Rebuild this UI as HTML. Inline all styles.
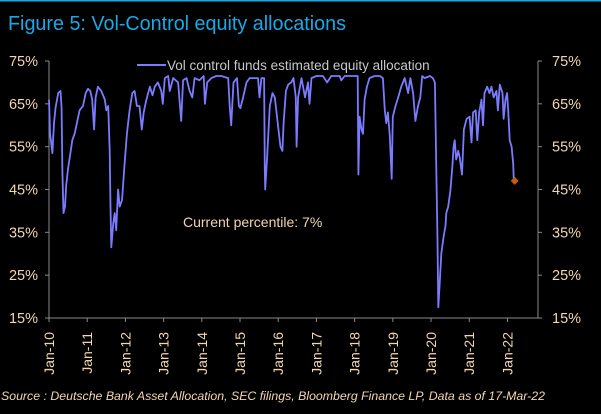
<!DOCTYPE html>
<html><head><meta charset="utf-8"><style>
html,body{margin:0;padding:0;background:#000;}
svg{display:block;font-family:"Liberation Sans",sans-serif;}
</style></head><body>
<svg width="601" height="414" viewBox="0 0 601 414" id="c">
<rect x="0" y="0" width="601" height="414" fill="#000"/>
<rect x="0" y="0" width="601" height="1.5" fill="#18a8e6"/>
<text x="8" y="30" font-size="20" fill="#1aa8e6" textLength="338" lengthAdjust="spacingAndGlyphs">Figure 5: Vol-Control equity allocations</text>
<line x1="137" y1="65" x2="166" y2="65" stroke="#7b7bff" stroke-width="2"/>
<text x="167" y="70" font-size="13.5" fill="#c8c8c8">Vol control funds estimated equity allocation</text>
<text x="183" y="227" font-size="14" fill="#f2d6b0">Current percentile: 7%</text>
<text x="1" y="400" font-size="12.3" font-style="italic" fill="#f2d6b0" textLength="544" lengthAdjust="spacingAndGlyphs">Source : Deutsche Bank Asset Allocation, SEC filings, Bloomberg Finance LP, Data as of 17-Mar-22</text>
<g id="axes"></g>
<g id="plot"></g>
</svg>
<script>
const yTicks = [15,25,35,45,55,65,75];
const xLabels = ["Jan-10","Jan-11","Jan-12","Jan-13","Jan-14","Jan-15","Jan-16","Jan-17","Jan-18","Jan-19","Jan-20","Jan-21","Jan-22"];
const years = [0,.03,.09,.13,.17,.24,.30,.33,.35,.38,.42,.45,.50,.56,.61,.67,.73,.80,.89,.96,1.02,1.08,1.13,1.18,1.22,1.28,1.37,1.46,1.50,1.55,1.59,1.61,1.63,1.68,1.72,1.76,1.81,1.85,1.91,1.98,2.04,2.11,2.18,2.24,2.30,2.37,2.43,2.48,2.55,2.64,2.71,2.77,2.85,2.94,2.98,3.03,3.12,3.16,3.25,3.38,3.46,3.51,3.60,3.68,3.75,3.81,3.94,4.05,4.08,4.14,4.25,4.38,4.51,4.69,4.73,4.77,4.83,4.92,4.97,5.01,5.08,5.17,5.25,5.34,5.47,5.51,5.56,5.63,5.65,5.66,5.71,5.78,5.85,5.91,5.95,6.00,6.06,6.11,6.14,6.20,6.26,6.34,6.40,6.46,6.48,
6.52,6.61,6.70,6.78,6.82,6.87,7.00,7.17,7.28,7.39,7.61,7.65,7.74,8.04,8.08,8.10,8.13,8.18,8.22,8.26,8.32,8.39,8.52,8.66,8.74,8.79,8.83,8.87,8.92,8.97,9.00,9.07,9.14,9.22,9.31,9.40,9.46,9.53,9.59,9.66,9.72,9.77,9.83,9.97,10.05,10.10,10.14,10.17,10.19,10.23,10.27,10.33,10.38,10.40,10.45,10.51,10.56,10.59,10.62,10.66,10.71,10.75,10.81,10.86,10.93,11.01,11.06,11.10,11.17,11.21,11.26,11.32,11.36,11.40,11.47,11.53,11.58,11.64,11.71,11.75,11.80,11.87,11.90,11.95,11.99,12.02,12.06,12.11,12.15,12.17];
const values = [66,58,53.5,60.5,64,67.5,68,64,49,39.5,41,46,50,53.5,56.5,58,60.5,63.5,64.5,67.5,68.5,68,66,59,66.5,69,68,66,63.5,64.5,54,41,31.5,37,39.5,35.5,45,41,42.5,51,58,63.5,67.5,68,64.5,64.5,59,63,66,69,67,69,70,68,65,71,71.5,68,71,70,61,70.5,71,68,66.5,71,70.5,71.5,65,70,71,71.5,71.5,71,64.5,60,70,71,64.5,64,66.5,70,71,71,71,66.5,71,71,49.5,45,52.5,64.5,67.5,66.5,63.5,59.5,55,54,60.5,68,69.5,70,71,66.5,55,
66.5,71,66.5,70,65,71,71.5,71.5,70,71.5,71.5,70.5,71.5,71.5,71.5,48.5,62,59,58,66,69,71,71.5,71.5,71,63.5,60.5,63,57.5,47.5,62,64.5,66.5,69,71,67.5,71,67.5,61,64.5,66.5,71.5,71,71.5,71,70,48.5,33,17.5,23.5,30,34,36.5,39.5,41,45,50.5,55,56.5,52,54,52.5,48.5,59,61.5,62,56,63,63.5,56.5,63,66,60,67.5,69,67.5,69,66.5,68,63.5,69.5,67.5,61.5,66,67.5,63.5,56.5,55,51,46.5];
const lastValue = [12.19, 47];

const X0=49, X1=538, Y0=318, Y1=61, T0=0, T1=12.8, V0=15, V1=75;
const sx = t => X0 + (t-T0)/(T1-T0)*(X1-X0);
const sy = v => Y0 - (v-V0)/(V1-V0)*(Y0-Y1);
const NS="http://www.w3.org/2000/svg";
const axes=document.getElementById('axes'), plot=document.getElementById('plot');
function mk(tag, attrs, parent){const e=document.createElementNS(NS,tag);for(const k in attrs)e.setAttribute(k,attrs[k]);parent.appendChild(e);return e;}
const ax="#8a8a8a", lab="#f2d6b0";
let e;
e=mk('line',{x1:X0,y1:Y1,x2:X0,y2:Y0,stroke:ax},axes);


e=mk('line',{x1:X1,y1:Y1,x2:X1,y2:Y0,stroke:ax},axes);


e=mk('line',{x1:X0-4,y1:Y0,x2:X1+4,y2:Y0,stroke:ax},axes);


yTicks.forEach(v=>{
  const y=sy(v);
  mk('line',{x1:X0-4,y1:y,x2:X0,y2:y,stroke:ax},axes);
  mk('line',{x1:X1,y1:y,x2:X1+4,y2:y,stroke:ax},axes);
  e=mk('text',{x:38,y:y+5,'font-size':14.5,fill:lab,'text-anchor':'end'},axes);
  e.textContent=v+'%';
  
  
  e=mk('text',{x:552,y:y+5,'font-size':14.5,fill:lab},axes);
  e.textContent=v+'%';
  
  
});
xLabels.forEach((l,i)=>{
  const x=sx(i);
  mk('line',{x1:x,y1:Y0,x2:x,y2:Y0+4,stroke:ax},axes);
  e=mk('text',{x:0,y:0,'font-size':14,fill:lab,'text-anchor':'end',transform:`translate(${x+5},${Y0+14}) rotate(-90)`},axes);
  e.textContent=l;
  
  
});
const d=years.map((t,i)=>(i?'L':'M')+sx(t).toFixed(1)+','+sy(values[i]).toFixed(1)).join('');
e=mk('path',{d:d,fill:'none',stroke:'#7b7bff','stroke-width':1.8,'stroke-linejoin':'round'},plot);


const mx=sx(lastValue[0]), my=sy(lastValue[1]);
e=mk('path',{d:`M${mx},${my-4}L${mx+4},${my}L${mx},${my+4}L${mx-4},${my}Z`,fill:'#c85a10'},plot);


</script>
</body></html>
